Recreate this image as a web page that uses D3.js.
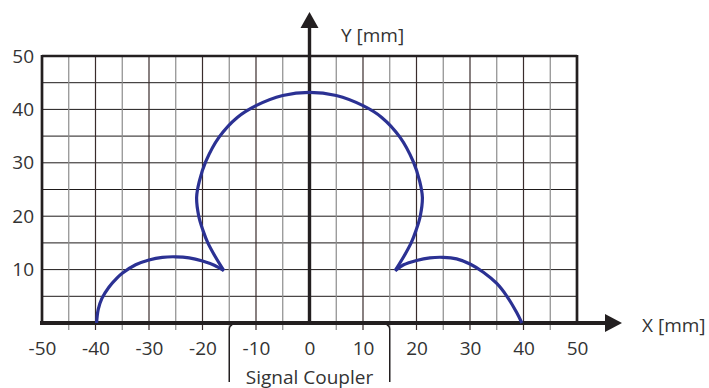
<!DOCTYPE html>
<html>
<head>
<meta charset="utf-8">
<script src="https://cdn.jsdelivr.net/npm/d3@7"></script>
<style>
  body { margin: 0; background: #fff; }
  svg { display: block; font-family: "Open Sans", sans-serif; }
</style>
</head>
<body>
<div id="chart"></div>
<script>
const width = 709;
const height = 388;

// tick labels
const xTicks = [-50, -40, -30, -20, -10, 0, 10, 20, 30, 40, 50];
const yTicks = [10, 20, 30, 40, 50];

// grid positions (mm)
const gridX = [-45, -40, -35, -30, -25, -20, -15, -10, -5, 5, 10, 15, 20, 25, 30, 35, 40, 45];
const gridY = [5, 10, 15, 20, 25, 30, 35, 40, 45];

// read range outline [x, y] in mm
const mainLobe = [
  [-16, 9.8], [-17.6, 12.4], [-19.0, 15], [-19.9, 17.3], [-20.7, 20], [-21.1, 23.5],
  [-20.6, 26.5], [-19.4, 30.2], [-16.9, 34.8], [-13.5, 38.5], [-10, 40.7], [-5, 42.6],
  [0, 43.2], [5, 42.6], [10, 40.7], [13.5, 38.5], [16.9, 34.8], [19.4, 30.2],
  [20.6, 26.5], [21.1, 23.5], [20.7, 20], [19.9, 17.3], [19.0, 15], [17.6, 12.4], [16, 9.8]
];
const leftLobe = [
  [-39.8, 0], [-39.5, 2.5], [-38.8, 4.6], [-37.5, 6.7], [-36, 8.4], [-35, 9.3], [-32.5, 10.9],
  [-30, 11.8], [-27.5, 12.3], [-25, 12.4], [-22.5, 12.2], [-20, 11.6], [-17.8, 10.8], [-16, 9.8]
];
const rightLobe = [
  [16, 9.8], [17.6, 10.9], [20, 11.7], [22.5, 12.2], [25, 12.3], [27.5, 12.0],
  [30, 11.05], [32.5, 9.5], [35, 7.4], [36.9, 5], [38.7, 2], [39.7, 0]
];

const couplerSpan = [-15, 15];

const x = d3.scaleLinear().domain([-50, 50]).range([42, 577]);
const y = d3.scaleLinear().domain([0, 50]).range([323, 56]);

const ink = "#231f20";
const textColor = "#333";
const fontSize = "19px";

const svg = d3.select("#chart").append("svg")
    .attr("width", width)
    .attr("height", height);

// horizontal grid
svg.append("g")
  .selectAll("line")
  .data(gridY)
  .join("line")
    .attr("x1", x(-50))
    .attr("x2", x(50))
    .attr("y1", d => y(d))
    .attr("y2", d => y(d))
    .attr("stroke", "#1e1a1a")
    .attr("stroke-width", 1);

// vertical grid, continuing below the axis as tick marks
svg.append("g")
  .selectAll("line")
  .data(gridX)
  .join("line")
    .attr("x1", d => x(d))
    .attr("x2", d => x(d))
    .attr("y1", y(50))
    .attr("y2", y(0) + 7)
    .attr("stroke", d => d % 10 === 0 ? "#3a2c2c" : "#8c8c8c")
    .attr("stroke-width", 1.2);

// frame
svg.append("line")
    .attr("x1", x(-50)).attr("x2", x(50))
    .attr("y1", y(50)).attr("y2", y(50))
    .attr("stroke", ink).attr("stroke-width", 2.3);
svg.append("line")
    .attr("x1", x(-50)).attr("x2", x(-50))
    .attr("y1", y(50) - 1).attr("y2", y(0))
    .attr("stroke", ink).attr("stroke-width", 2.7);
svg.append("line")
    .attr("x1", x(50)).attr("x2", x(50))
    .attr("y1", y(50) - 1).attr("y2", y(0))
    .attr("stroke", ink).attr("stroke-width", 2.7);

// x axis with arrow
svg.append("line")
    .attr("x1", x(-50) - 2).attr("x2", 606)
    .attr("y1", y(0)).attr("y2", y(0))
    .attr("stroke", ink).attr("stroke-width", 4);
svg.append("path")
    .attr("d", `M605,${y(0) - 9}L622,${y(0)}L605,${y(0) + 9}Z`)
    .attr("fill", ink);

// y axis with arrow
svg.append("line")
    .attr("x1", x(0)).attr("x2", x(0))
    .attr("y1", y(0)).attr("y2", 27)
    .attr("stroke", ink).attr("stroke-width", 3.4);
svg.append("path")
    .attr("d", `M${x(0) - 9},28L${x(0)},12L${x(0) + 9},28Z`)
    .attr("fill", ink);

// tick labels (plain hyphen for negatives, as in the original)
const xAxis = svg.append("g")
    .attr("transform", `translate(0,${y(0)})`)
    .call(d3.axisBottom(x).tickValues(xTicks).tickSize(0).tickPadding(18.5).tickFormat(d => String(d)));
const yAxis = svg.append("g")
    .attr("transform", `translate(${x(-50)},0)`)
    .call(d3.axisLeft(y).tickValues(yTicks).tickSize(0).tickPadding(8).tickFormat(d => String(d)));
[xAxis, yAxis].forEach(g => {
  g.select(".domain").remove();
  g.selectAll("text")
    .attr("fill", textColor)
    .style("font-size", fontSize)
    .style("font-family", "'Open Sans', sans-serif");
});

// axis titles
svg.append("text")
    .attr("x", 642).attr("y", 332)
    .attr("fill", textColor)
    .style("font-size", fontSize)
    .text("X [mm]");
svg.append("text")
    .attr("x", 341).attr("y", 41.5)
    .attr("fill", textColor)
    .style("font-size", fontSize)
    .text("Y [mm]");

// signal coupler bracket
couplerSpan.forEach(v => {
  const px = x(v);
  const dir = v < 0 ? 1 : -1;
  const p = d3.path();
  p.moveTo(px + dir * 3, y(0) + 2);
  p.quadraticCurveTo(px, y(0) + 2.5, px, y(0) + 7);
  p.lineTo(px, 382);
  svg.append("path")
      .attr("d", p.toString())
      .attr("fill", "none")
      .attr("stroke", ink)
      .attr("stroke-width", 1.5);
});
svg.append("text")
    .attr("x", x(0)).attr("y", 383.5)
    .attr("text-anchor", "middle")
    .attr("fill", textColor)
    .style("font-size", fontSize)
    .text("Signal Coupler");

// outline
const line = d3.line()
    .x(d => x(d[0]))
    .y(d => y(d[1]))
    .curve(d3.curveCatmullRom.alpha(0.5));

svg.append("g")
  .selectAll("path")
  .data([mainLobe, leftLobe, rightLobe])
  .join("path")
    .attr("d", d => line(d))
    .attr("fill", "none")
    .attr("stroke", "#2b3193")
    .attr("stroke-width", 3.2)
    .attr("stroke-linejoin", "miter");
</script>
</body>
</html>
